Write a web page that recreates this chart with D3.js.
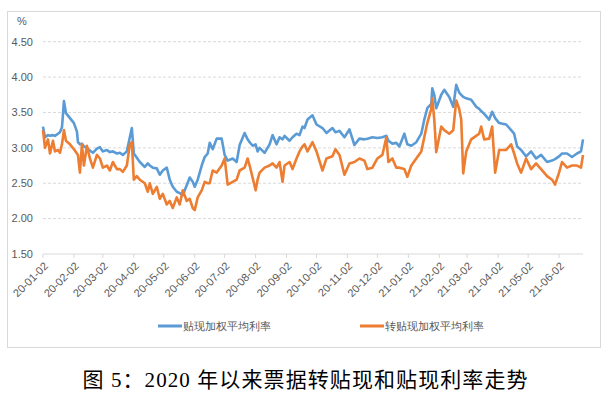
<!DOCTYPE html>
<html>
<head>
<meta charset="utf-8">
<style>
body { margin: 0; background: #fff; }
.tick-label, .y-label, .legend text {
  fill: #595959;
  font: 11px "Liberation Sans", sans-serif;
}
.grid line {
  stroke: #d9d9d9;
  stroke-dasharray: 3,2;
}
.caption {
  font: 21px "Liberation Serif", "Noto Sans CJK SC", serif;
  fill: #000;
}
</style>
<script src="https://cdnjs.cloudflare.com/ajax/libs/d3/7.8.5/d3.min.js"></script>
</head>
<body>
<svg width="612" height="399"></svg>
<script>
// dates of the readings (yyyy-mm-dd)
var dates = [
  "2020-01-02","2020-01-04","2020-01-07","2020-01-09","2020-01-12","2020-01-14","2020-01-17","2020-01-19","2020-01-21","2020-01-23",
  "2020-01-25","2020-01-29","2020-02-02","2020-02-05","2020-02-06","2020-02-08","2020-02-10","2020-02-12","2020-02-15","2020-02-18",
  "2020-02-21","2020-02-25","2020-02-28","2020-03-02","2020-03-06","2020-03-09","2020-03-12","2020-03-16","2020-03-19","2020-03-22",
  "2020-03-26","2020-03-29","2020-03-31","2020-04-02","2020-04-05","2020-04-08","2020-04-13","2020-04-16","2020-04-18","2020-04-21",
  "2020-04-25","2020-04-28","2020-05-01","2020-05-05","2020-05-08","2020-05-11","2020-05-15","2020-05-18","2020-05-21","2020-05-25",
  "2020-05-28","2020-05-31","2020-06-02","2020-06-05","2020-06-09","2020-06-12","2020-06-15","2020-06-17","2020-06-20","2020-06-24",
  "2020-06-29","2020-07-02","2020-07-05","2020-07-10","2020-07-14","2020-07-17","2020-07-22","2020-07-25","2020-07-27","2020-07-30",
  "2020-08-02","2020-08-04","2020-08-06","2020-08-11","2020-08-16","2020-08-19","2020-08-23","2020-08-26","2020-08-29","2020-08-31",
  "2020-09-05","2020-09-08","2020-09-12","2020-09-15","2020-09-18","2020-09-20","2020-09-23","2020-09-28","2020-10-02","2020-10-08",
  "2020-10-12","2020-10-18","2020-10-21","2020-10-25","2020-10-30","2020-11-04","2020-11-09","2020-11-14","2020-11-19","2020-11-22",
  "2020-11-27","2020-12-02","2020-12-07","2020-12-11","2020-12-13","2020-12-17","2020-12-21","2020-12-24","2020-12-29","2021-01-01",
  "2021-01-05","2021-01-10","2021-01-15","2021-01-18","2021-01-21","2021-01-25","2021-01-26","2021-01-28","2021-01-30","2021-02-04",
  "2021-02-07","2021-02-12","2021-02-16","2021-02-19","2021-02-22","2021-02-24","2021-02-26","2021-03-01","2021-03-06","2021-03-11",
  "2021-03-14","2021-03-16","2021-03-19","2021-03-24","2021-03-27","2021-03-30","2021-04-03","2021-04-10","2021-04-15","2021-04-18",
  "2021-04-21","2021-04-25","2021-04-30","2021-05-05","2021-05-10","2021-05-15","2021-05-21","2021-05-26","2021-05-29","2021-06-02",
  "2021-06-05","2021-06-10","2021-06-15","2021-06-20","2021-06-24","2021-06-26"
];

// 贴现加权平均利率
var discountRate = [
  3.30,3.15,3.18,3.17,3.18,3.17,3.20,3.22,3.29,3.66,
  3.49,3.42,3.35,3.23,3.08,3.05,3.06,3.02,3.00,2.96,
  2.93,2.99,3.01,2.95,2.97,2.94,2.95,2.92,2.93,2.90,
  2.95,3.15,3.28,2.92,2.86,2.80,2.73,2.78,2.75,2.72,
  2.71,2.62,2.68,2.72,2.55,2.45,2.38,2.36,2.33,2.47,
  2.58,2.52,2.45,2.55,2.75,2.87,2.92,3.07,2.98,3.13,
  3.13,2.90,2.82,2.85,2.80,3.04,3.21,3.12,3.08,3.03,
  3.05,2.95,3.00,2.93,3.05,3.18,3.05,3.15,3.12,3.17,
  3.10,3.15,3.20,3.18,3.30,3.28,3.40,3.46,3.33,3.28,
  3.21,3.28,3.22,3.24,3.15,3.26,3.04,3.13,3.12,3.13,
  3.15,3.14,3.15,3.17,3.10,3.06,3.07,3.02,3.20,3.05,
  3.03,3.08,3.20,3.40,3.56,3.62,3.84,3.75,3.56,3.75,
  3.82,3.72,3.58,3.89,3.78,3.75,3.72,3.70,3.68,3.58,
  3.55,3.52,3.48,3.40,3.51,3.42,3.35,3.33,3.25,3.20,
  3.02,2.97,2.88,2.95,2.85,2.90,2.80,2.82,2.84,2.88,
  2.92,2.92,2.87,2.92,2.95,3.12
];

// 转贴现加权平均利率
var rediscountRate = [
  3.25,3.00,3.12,2.92,3.10,2.95,2.97,2.93,3.05,3.25,
  3.10,3.05,2.98,2.92,2.90,2.65,3.05,2.75,3.03,2.85,
  2.72,2.90,2.85,2.72,2.75,2.68,2.80,2.70,2.70,2.66,
  2.75,3.05,3.08,2.55,2.60,2.55,2.50,2.38,2.50,2.35,
  2.45,2.28,2.35,2.20,2.25,2.15,2.30,2.20,2.40,2.25,
  2.28,2.15,2.12,2.30,2.40,2.52,2.50,2.50,2.68,2.65,
  2.75,2.85,2.48,2.52,2.55,2.68,2.72,2.85,2.75,2.58,
  2.40,2.55,2.65,2.72,2.75,2.78,2.72,2.80,2.52,2.75,
  2.80,2.70,2.85,2.95,3.02,3.05,2.95,3.08,2.95,2.68,
  2.85,2.88,2.98,2.90,2.62,2.78,2.80,2.85,2.82,2.70,
  2.72,2.85,2.90,3.15,2.80,2.85,2.72,2.72,2.70,2.59,
  2.75,2.85,2.95,3.15,3.35,3.55,3.70,3.40,2.94,3.30,
  3.25,3.20,3.25,3.67,3.55,3.40,2.64,2.95,3.12,3.17,
  3.20,3.30,3.12,3.13,3.30,2.65,2.97,2.97,3.05,2.92,
  2.78,2.65,2.85,2.70,2.78,2.70,2.60,2.55,2.48,2.65,
  2.80,2.72,2.75,2.75,2.72,2.90
];

var yTicks = [1.5, 2.0, 2.5, 3.0, 3.5, 4.0, 4.5];
var xTickDates = [
  "2020-01-02","2020-02-02","2020-03-02","2020-04-02","2020-05-02","2020-06-02",
  "2020-07-02","2020-08-02","2020-09-02","2020-10-02","2020-11-02","2020-12-02",
  "2021-01-02","2021-02-02","2021-03-02","2021-04-02","2021-05-02","2021-06-02"
];
var seriesNames = ["贴现加权平均利率", "转贴现加权平均利率"];
var seriesColors = ["#5b9bd5", "#ed7d31"];

var parse = d3.timeParse("%Y-%m-%d");
var fmt = d3.timeFormat("%y-%m-%d");

var svg = d3.select("svg");
var plotLeft = 43, plotRight = 583, plotTop = 41.7, plotBottom = 254;

// chart frame
svg.append("rect")
    .attr("x", 7.5).attr("y", 11.5)
    .attr("width", 593).attr("height", 336)
    .attr("fill", "#fff")
    .attr("stroke", "#d9d9d9");

var parsedDates = dates.map(parse);
var x = d3.scaleTime()
    .domain(d3.extent(parsedDates))
    .range([plotLeft, plotRight]);
var y = d3.scaleLinear()
    .domain([1.5, 4.5])
    .range([plotBottom, plotTop]);

// gridlines
svg.append("g").attr("class", "grid")
  .selectAll("line")
  .data(yTicks.slice(1))
  .enter().append("line")
    .attr("x1", plotLeft).attr("x2", plotRight)
    .attr("y1", function(d) { return y(d); })
    .attr("y2", function(d) { return y(d); });

// x axis line + ticks
svg.append("line")
    .attr("x1", plotLeft).attr("x2", plotRight)
    .attr("y1", plotBottom).attr("y2", plotBottom)
    .attr("stroke", "#d9d9d9");

var xt = svg.append("g").selectAll("g")
    .data(xTickDates.map(parse))
    .enter().append("g")
    .attr("transform", function(d) { return "translate(" + x(d) + "," + plotBottom + ")"; });
xt.append("line")
    .attr("y1", 0).attr("y2", 4)
    .attr("stroke", "#d9d9d9");
xt.append("text")
    .attr("class", "tick-label")
    .attr("transform", "translate(3,10) rotate(-45)")
    .attr("text-anchor", "end")
    .attr("dy", "0.35em")
    .text(function(d) { return fmt(d); });

// y labels
svg.append("g").selectAll("text")
    .data(yTicks)
  .enter().append("text")
    .attr("class", "y-label")
    .attr("x", 33)
    .attr("y", function(d) { return y(d); })
    .attr("dy", "0.35em")
    .attr("text-anchor", "end")
    .text(function(d) { return d.toFixed(2); });

svg.append("text")
    .attr("class", "y-label")
    .attr("x", 22).attr("y", 25)
    .attr("text-anchor", "middle")
    .text("%");

// lines
var series = [discountRate, rediscountRate];
series.forEach(function(vals, i) {
  var line = d3.line()
      .x(function(d, j) { return x(parsedDates[j]); })
      .y(function(d) { return y(d); });
  svg.append("path")
      .datum(vals)
      .attr("fill", "none")
      .attr("stroke", seriesColors[i])
      .attr("stroke-width", 2.6)
      .attr("stroke-linejoin", "round")
      .attr("d", line);
});

// legend
var legendX = [158, 360];
var legend = svg.append("g").attr("class", "legend")
  .selectAll("g")
  .data(seriesNames)
  .enter().append("g")
    .attr("transform", function(d, i) { return "translate(" + legendX[i] + ",326)"; });
legend.append("line")
    .attr("x1", 0).attr("x2", 24)
    .attr("stroke", function(d, i) { return seriesColors[i]; })
    .attr("stroke-width", 3);
legend.append("text")
    .attr("x", 25)
    .attr("dy", "0.35em")
    .text(function(d) { return d; });

// caption
svg.append("text")
    .attr("class", "caption")
    .attr("x", 305).attr("y", 387)
    .attr("text-anchor", "middle")
    .attr("textLength", 445)
    .text("图 5：2020 年以来票据转贴现和贴现利率走势");
</script>
</body>
</html>
